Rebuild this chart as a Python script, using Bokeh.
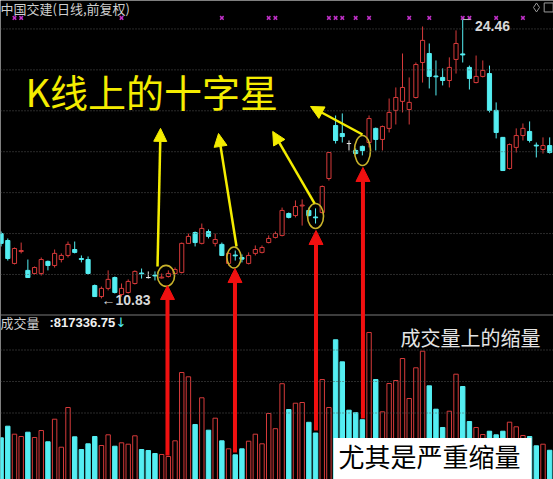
import numpy as np
from bokeh.plotting import figure
from bokeh.models import (ColumnDataSource, Range1d, Span, Arrow, NormalHead,
                          Label, BoxAnnotation)
from bokeh.embed import file_html
from bokeh.resources import INLINE

# 中国交建 daily bars, forward-adjusted prices
opens = [14.00, 13.66, 12.54, 13.12, 12.20, 12.05, 12.05, 12.64, 12.44, 12.73,
         12.93, 13.22, 12.78, 12.73, 11.46, 10.92, 11.32, 11.85, 11.02, 11.12,
         11.56, 12.07, 11.85, 11.97, 11.83, 11.90, 12.05, 12.10, 13.52, 14.05,
         13.52, 14.10, 13.52, 13.47, 12.54, 12.95, 12.83, 12.54, 13.03, 13.08,
         13.56, 13.81, 13.91, 14.98, 14.88, 15.35, 15.13, 14.81, 15.03, 16.69,
         19.28, 18.89, 18.40, 18.06, 18.26, 18.45, 19.14, 18.60, 19.14, 20.02,
         20.46, 20.06, 20.65, 22.36, 22.80, 21.70, 21.63, 21.48, 22.51, 22.78,
         22.12, 21.38, 21.68, 21.82, 20.02, 18.70, 17.18, 18.21, 18.79, 18.99,
         18.32, 18.11, 18.30]
highs = [14.10, 13.76, 13.32, 13.56, 12.73, 12.39, 12.83, 12.68, 13.22, 13.03,
         13.61, 13.61, 12.93, 12.88, 11.51, 11.41, 12.20, 11.90, 11.56, 11.76,
         12.20, 12.29, 12.15, 12.15, 12.05, 12.20, 12.34, 13.56, 14.00, 14.10,
         14.49, 14.20, 14.00, 13.56, 13.08, 13.17, 12.98, 13.08, 13.42, 13.42,
         13.91, 14.10, 15.27, 15.03, 15.62, 15.67, 15.27, 15.23, 16.35, 17.98,
         19.77, 19.87, 18.55, 18.16, 18.30, 19.77, 19.18, 19.28, 20.60, 21.14,
         22.80, 21.63, 22.36, 24.12, 23.29, 22.46, 22.07, 22.61, 23.93, 24.46,
         22.21, 22.70, 22.46, 22.21, 20.41, 18.72, 18.40, 19.14, 19.38, 19.48,
         18.45, 18.70, 18.70]
lows = [13.37, 12.68, 12.49, 13.03, 11.83, 12.00, 11.95, 12.20, 12.34, 12.59,
        12.83, 13.03, 12.59, 12.00, 10.90, 10.83, 11.22, 11.07, 10.92, 11.07,
        11.51, 11.80, 11.80, 11.71, 11.80, 11.85, 12.00, 12.05, 13.50, 13.37,
        13.47, 13.76, 13.37, 12.90, 12.44, 12.68, 12.59, 12.49, 12.93, 13.03,
        13.52, 13.76, 13.86, 14.74, 14.79, 14.39, 14.83, 14.49, 14.98, 16.59,
        18.40, 18.45, 18.06, 17.86, 17.82, 18.21, 18.06, 18.06, 18.94, 19.33,
        19.92, 19.33, 20.60, 21.38, 21.09, 20.75, 21.24, 21.14, 21.82, 22.36,
        21.04, 21.34, 21.63, 19.92, 18.65, 17.06, 17.13, 17.96, 18.55, 18.45,
        17.72, 17.91, 17.91]
closes = [13.52, 12.78, 13.27, 13.17, 11.85, 12.34, 12.73, 12.44, 13.03, 12.93,
          13.47, 13.08, 12.73, 12.05, 10.92, 11.32, 11.76, 11.12, 11.32, 11.66,
          12.15, 12.03, 11.85, 11.93, 11.87, 12.05, 12.24, 13.52, 13.86, 13.56,
          14.25, 13.86, 13.71, 12.93, 13.03, 12.91, 12.75, 12.93, 13.22, 13.32,
          13.76, 14.00, 15.13, 14.79, 15.32, 15.39, 14.88, 14.77, 16.30, 17.96,
          18.55, 18.74, 18.40, 17.91, 18.06, 19.62, 18.60, 19.23, 19.92, 20.65,
          21.14, 20.41, 22.26, 23.44, 21.68, 21.66, 21.48, 22.12, 23.29, 22.73,
          21.58, 21.68, 21.97, 20.02, 18.94, 17.08, 18.35, 18.79, 19.14, 18.55,
          18.28, 18.30, 17.96]
# traded volume, in units of 10,000
volume_wan = [121.3, 158.1, 132.7, 125.4, 139.0, 122.2, 144.4, 108.6, 180.3, 91.4,
              217.5, 124.4, 84.1, 102.2, 125.4, 96.8, 130.8, 94.6, 105.4, 101.0,
              127.6, 84.1, 81.0, 71.4, 68.3, 61.9, 111.7, 328.6, 314.9, 163.5,
              248.3, 145.4, 183.5, 111.7, 86.3, 67.3, 86.3, 110.5, 132.7, 102.2,
              198.4, 150.2, 293.0, 211.1, 231.1, 233.3, 170.5, 136.5, 306.3, 217.5,
              432.4, 362.5, 208.9, 201.0, 178.7, 455.6, 306.3, 203.8, 293.7, 303.2,
              373.0, 246.0, 343.5, 396.2, 286.3, 212.1, 154.0, 205.7, 323.2, 284.1,
              173.0, 154.0, 131.7, 142.2, 130.8, 142.2, 170.8, 156.2, 128.6, 125.4,
              95.9, 101.0, 81.733675]
# days flagged in the signal row along the top edge
signal_days = [2, 3, 18, 33, 40, 41, 49, 50, 51, 53, 55, 61, 64, 69, 70, 74, 78]
price_grid = [12, 14, 16, 18, 20, 22, 24]
volume_grid = [200, 300, 400]

UP = "#d63a3a"
DOWN = "#54eef2"
FLAT = "#e6e6e6"
GRID = "#555555"
YELLOW = "#f4ec00"

o = np.array(opens)
h = np.array(highs)
l = np.array(lows)
c = np.array(closes)
v = np.array(volume_wan)
idx = np.arange(len(o))
rise = c > o
fall = c < o
flat = c == o

color = np.where(rise, UP, np.where(fall, DOWN, FLAT))
src = ColumnDataSource(dict(
    x=idx, o=o, h=h, l=l, c=c,
    top=np.maximum(o, c), bot=np.minimum(o, c),
    color=color, fill=np.where(rise, "black", color),
    vol=v, vcolor=np.where(rise, UP, DOWN), vfill=np.where(rise, "black", DOWN),
))

PRICE_LO, PRICE_HI = 1.98, 25.39
VOL_LO, VOL_HI = -11.1, 1509.5

p = figure(width=553, height=479, output_backend="svg", toolbar_location=None,
           x_range=Range1d(-0.09, 82.57), y_range=Range1d(PRICE_LO, PRICE_HI),
           x_axis_location=None, y_axis_location=None,
           background_fill_color="black", border_fill_color="black",
           min_border=0, outline_line_color=None)
p.extra_y_ranges = {"vol": Range1d(VOL_LO, VOL_HI)}
p.grid.visible = False

# dotted grid lines for both panes
for g in price_grid:
    p.add_layout(Span(location=g, dimension="width", line_color=GRID,
                      line_dash="1 2", line_width=1))
for g in volume_grid:
    p.add_layout(Span(location=g, dimension="width", line_color=GRID,
                      line_dash="1 2", line_width=1, y_range_name="vol"))
# divider between price pane and volume pane
p.add_layout(Span(location=164.5, location_units="screen", dimension="width",
                  line_color="#7a7a7a", line_width=1))

# volume bars
p.vbar(x="x", width=0.66, top="vol", bottom=VOL_LO, y_range_name="vol",
       fill_color="vfill", line_color="vcolor", line_width=1, source=src)

# candlesticks: wicks, then hollow up bodies / solid down bodies
p.segment(x0="x", y0="l", x1="x", y1="h", line_color="color", line_width=1, source=src)
p.vbar(x="x", width=0.62, top="top", bottom="bot", fill_color="fill",
       line_color="color", line_width=1, source=src)
p.segment(x0=idx[flat] - 0.31, y0=o[flat], x1=idx[flat] + 0.31, y1=o[flat],
          line_color=FLAT, line_width=1)

# signal markers
p.scatter(x=signal_days, y=[24.54] * len(signal_days), marker="x", size=5,
          line_color="#c030c8", line_width=1.5)

# extreme value tags
hi_i = int(np.argmax(h))
lo_i = int(np.argmin(l))
p.segment(x0=[hi_i], y0=[h[hi_i]], x1=[hi_i + 1.2], y1=[h[hi_i]],
          line_color="#b8b8b8", line_width=1)
p.add_layout(Label(x=hi_i + 1.84, y=h[hi_i] - 0.31, text=f"{h[hi_i]:.2f}",
                   text_baseline="middle", text_font="Liberation Sans",
                   text_font_style="bold", text_font_size="14px", text_color="#d8d8d8"))
p.add_layout(Label(x=lo_i, y=l[lo_i] - 0.10, text=f"←{l[lo_i]:.2f}",
                   text_baseline="middle", text_font="Liberation Sans",
                   text_font_style="bold", text_font_size="14px", text_color="#d8d8d8"))

# pane titles
p.add_layout(Label(x=-0.09, y=25.0, text="中国交建(日线,前复权)", text_baseline="middle",
                   text_font="Noto Sans CJK SC", text_font_size="13px", text_color="#cfcfcf"))
p.add_layout(Label(x=-0.09, y=9.63, text="成交量", text_baseline="middle",
                   text_font="Noto Sans CJK SC", text_font_size="13px", text_color="#cfcfcf"))
p.add_layout(Label(x=7.24, y=9.63, text=f":{v[-1] * 10000:.2f}", text_baseline="middle",
                   text_font="Liberation Sans", text_font_style="bold",
                   text_font_size="13px", text_color="#f0f0f0"))
p.add_layout(Label(x=17.1, y=9.63, text="↓", text_baseline="middle",
                   text_font="DejaVu Sans", text_font_size="13px", text_color=DOWN))

# window icons, top right
p.scatter(x=[80.03], y=[25.05], marker="diamond", size=9, fill_color=None,
          line_color="#9a9a9a", line_width=1)
p.scatter(x=[81.85], y=[25.05], marker="square", size=9, fill_color=None,
          line_color="#9a9a9a", line_width=1)

# circled doji candles
p.ellipse(x=[24.65, 34.81, 47.0, 54.02], y=[11.93, 12.83, 14.86, 18.06],
          width=[17, 14, 16, 16], height=[21, 21, 25, 30],
          width_units="screen", height_units="screen",
          fill_color=None, line_color="#c8b22a", line_width=1.6)

# yellow pointers up to the caption
for xs, ys, xe, ye in [(23.38, 12.39, 23.83, 19.14),
                       (35.19, 13.37, 32.50, 18.89),
                       (46.85, 15.47, 40.60, 18.99),
                       (54.02, 18.84, 46.25, 20.21)]:
    p.add_layout(Arrow(x_start=xs, y_start=ys, x_end=xe, y_end=ye,
                       line_color=YELLOW, line_width=2.5,
                       end=NormalHead(size=13, fill_color=YELLOW, line_color=YELLOW)))

# red pointers from the shrinking volume up to the doji
for xr, ys, ye in [(24.87, 3.15, 11.46), (34.96, 3.30, 12.29),
                   (47.07, 4.38, 14.15), (54.09, 4.96, 17.23)]:
    p.add_layout(Arrow(x_start=xr, y_start=ys, x_end=xr, y_end=ye,
                       line_color="#f01010", line_width=4,
                       end=NormalHead(size=14, fill_color="#f01010", line_color="#f01010")))

# captions
p.add_layout(Label(x=3.65, y=20.99, text="K线上的十字星", text_baseline="middle",
                   text_font="Noto Sans CJK SC", text_font_size="38px", text_color=YELLOW))
p.add_layout(Label(x=59.7, y=8.92, text="成交量上的缩量", text_baseline="middle",
                   text_font="Noto Sans CJK SC", text_font_size="20px", text_color="#e4e4e4"))
p.add_layout(BoxAnnotation(left=49.69, right=79.28, top=4.01, bottom=PRICE_LO,
                           fill_color="white", fill_alpha=1.0, line_color=None))
p.add_layout(Label(x=50.43, y=3.15, text="尤其是严重缩量", text_baseline="middle",
                   text_font="Noto Sans CJK SC", text_font_size="26px", text_color="black"))

open("out.html", "w").write(file_html(p, INLINE))
